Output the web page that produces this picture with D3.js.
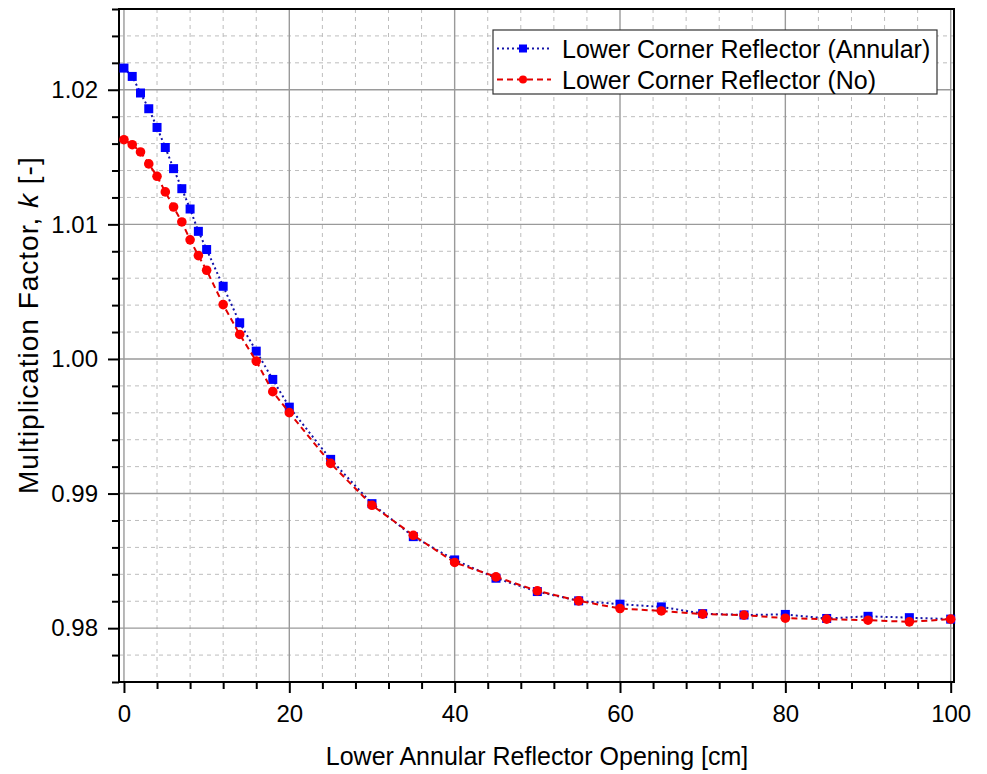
<!DOCTYPE html>
<html>
<head>
<meta charset="utf-8">
<script src="https://cdn.jsdelivr.net/npm/d3@7"></script>
<style>
    body { margin: 0; background: #fff; }
    svg { display: block; font-family: Arial, "Liberation Sans", sans-serif; }
</style>
</head>
<body>
<svg id="chart" width="987" height="774"></svg>
<script>
// opening in cm
const opening = [0, 1, 2, 3, 4, 5, 6, 7, 8, 9, 10, 12, 14, 16, 18, 20,
    25, 30, 35, 40, 45, 50, 55, 60, 65, 70, 75, 80, 85, 90, 95, 100];

// k for annular lower corner reflector
const kAnnular = [1.02161, 1.02099, 1.01976, 1.01859, 1.01720, 1.01571, 1.01414, 1.01265,
    1.01114, 1.00948, 1.00813, 1.00540, 1.00269, 1.00058, 0.99848, 0.99642,
    0.99254, 0.98925, 0.98680, 0.98507, 0.98371, 0.98272, 0.98203, 0.98178,
    0.98158, 0.98108, 0.98098, 0.98102, 0.98072, 0.98088, 0.98078, 0.98067];

// k without lower corner reflector
const kNo = [1.01629, 1.01592, 1.01538, 1.01449, 1.01357, 1.01241, 1.01129, 1.01018,
    1.00885, 1.00768, 1.00659, 1.00404, 1.00182, 0.99984, 0.99757, 0.99601,
    0.99224, 0.98913, 0.98690, 0.98488, 0.98381, 0.98277, 0.98203, 0.98146,
    0.98128, 0.98104, 0.98097, 0.98074, 0.98067, 0.98059, 0.98047, 0.98067];

const xMajor = [0, 20, 40, 60, 80, 100];
const yMajor = [0.98, 0.99, 1.00, 1.01, 1.02];

const svg = d3.select("#chart");
const plotLeft = 119, plotRight = 954, plotTop = 9, plotBottom = 682;

const x = d3.scaleLinear().domain([-0.6, 100.4]).range([plotLeft, plotRight]);
const y = d3.scaleLinear().domain([0.976, 1.026]).range([plotBottom, plotTop]);

const xMinor = d3.range(0, 101, 4).filter(v => v % 20 !== 0);
const yMinor = d3.range(0, 26).map(i => +(0.976 + i * 0.002).toFixed(3))
    .filter(v => !yMajor.some(m => Math.abs(m - v) < 1e-6));

// grid
const grid = svg.append("g");
grid.selectAll(".xmin").data(xMinor).enter().append("line")
    .attr("x1", d => x(d)).attr("x2", d => x(d))
    .attr("y1", plotTop).attr("y2", plotBottom)
    .attr("stroke", "#bdbdbd").attr("stroke-width", 1).attr("stroke-dasharray", "4,4");
grid.selectAll(".ymin").data(yMinor).enter().append("line")
    .attr("x1", plotLeft).attr("x2", plotRight)
    .attr("y1", d => y(d)).attr("y2", d => y(d))
    .attr("stroke", "#bdbdbd").attr("stroke-width", 1).attr("stroke-dasharray", "4,4");
grid.selectAll(".xmaj").data(xMajor).enter().append("line")
    .attr("x1", d => x(d)).attr("x2", d => x(d))
    .attr("y1", plotTop).attr("y2", plotBottom)
    .attr("stroke", "#9a9a9a").attr("stroke-width", 1.4);
grid.selectAll(".ymaj").data(yMajor).enter().append("line")
    .attr("x1", plotLeft).attr("x2", plotRight)
    .attr("y1", d => y(d)).attr("y2", d => y(d))
    .attr("stroke", "#9a9a9a").attr("stroke-width", 1.4);

// frame
svg.append("rect")
    .attr("x", plotLeft).attr("y", plotTop)
    .attr("width", plotRight - plotLeft).attr("height", plotBottom - plotTop)
    .attr("fill", "none").attr("stroke", "#000").attr("stroke-width", 2);

// axes
const xAxis = svg.append("g").attr("transform", `translate(0,${plotBottom})`);
xAxis.call(d3.axisBottom(x).tickValues(xMinor).tickSize(7).tickFormat(""));
xAxis.call(g => g.append("g").call(d3.axisBottom(x).tickValues(xMajor).tickSize(11).tickPadding(12)));
xAxis.selectAll("path").remove();
xAxis.selectAll("line").attr("stroke", "#000").attr("stroke-width", 2);
xAxis.selectAll("text").attr("fill", "#000").style("font-size", "24px");

const yAxis = svg.append("g").attr("transform", `translate(${plotLeft},0)`);
yAxis.call(d3.axisLeft(y).tickValues(yMinor).tickSize(7).tickFormat(""));
yAxis.call(g => g.append("g").call(d3.axisLeft(y).tickValues(yMajor).tickSize(11)
    .tickPadding(10).tickFormat(d3.format(".2f"))));
yAxis.selectAll("path").remove();
yAxis.selectAll("line").attr("stroke", "#000").attr("stroke-width", 2);
yAxis.selectAll("text").attr("fill", "#000").style("font-size", "24px");

// axis titles
svg.append("text")
    .attr("x", 537).attr("y", 765)
    .attr("text-anchor", "middle")
    .style("font-size", "25px")
    .text("Lower Annular Reflector Opening [cm]");

const yt = svg.append("text")
    .attr("transform", "translate(38,494) rotate(-90)")
    .attr("text-anchor", "start")
    .style("font-size", "28px")
    .style("letter-spacing", "1px");
yt.append("tspan").text("Multiplication Factor, ");
yt.append("tspan").style("font-style", "italic").text("k");
yt.append("tspan").text(" [-]");

// series
const series = [
    { name: "Lower Corner Reflector (Annular)", values: kAnnular, color: "#0000ff", line: "#1414a8", dash: "2,3", shape: "square" },
    { name: "Lower Corner Reflector (No)", values: kNo, color: "#ff0000", line: "#e00000", dash: "6,4", shape: "circle" }
];

const line = d3.line().x(d => x(d[0])).y(d => y(d[1]));

series.forEach(s => {
    const pts = opening.map((o, i) => [o, s.values[i]]);
    svg.append("path")
        .datum(pts)
        .attr("d", line)
        .attr("fill", "none")
        .attr("stroke", s.line)
        .attr("stroke-width", 2)
        .attr("stroke-dasharray", s.dash);
    if (s.shape === "square") {
        svg.append("g").selectAll("rect").data(pts).enter().append("rect")
            .attr("x", d => x(d[0]) - 4.5).attr("y", d => y(d[1]) - 4.5)
            .attr("width", 9).attr("height", 9)
            .attr("fill", s.color);
    } else {
        svg.append("g").selectAll("circle").data(pts).enter().append("circle")
            .attr("cx", d => x(d[0])).attr("cy", d => y(d[1]))
            .attr("r", 4.8)
            .attr("fill", s.color);
    }
});

// legend
const legend = svg.append("g").attr("transform", "translate(493,30)");
legend.append("rect")
    .attr("width", 444).attr("height", 64)
    .attr("fill", "#fff").attr("stroke", "#333").attr("stroke-width", 1.2);

series.forEach((s, i) => {
    const ly = 18.5 + i * 31;
    legend.append("line")
        .attr("x1", 4).attr("x2", 58).attr("y1", ly).attr("y2", ly)
        .attr("stroke", s.line).attr("stroke-width", 2).attr("stroke-dasharray", s.dash);
    if (s.shape === "square") {
        legend.append("rect").attr("x", 26).attr("y", ly - 4).attr("width", 8).attr("height", 8).attr("fill", s.color);
    } else {
        legend.append("circle").attr("cx", 30).attr("cy", ly).attr("r", 4).attr("fill", s.color);
    }
    legend.append("text")
        .attr("x", 69).attr("y", ly + 9)
        .style("font-size", "25px")
        .text(s.name);
});
</script>
</body>
</html>
